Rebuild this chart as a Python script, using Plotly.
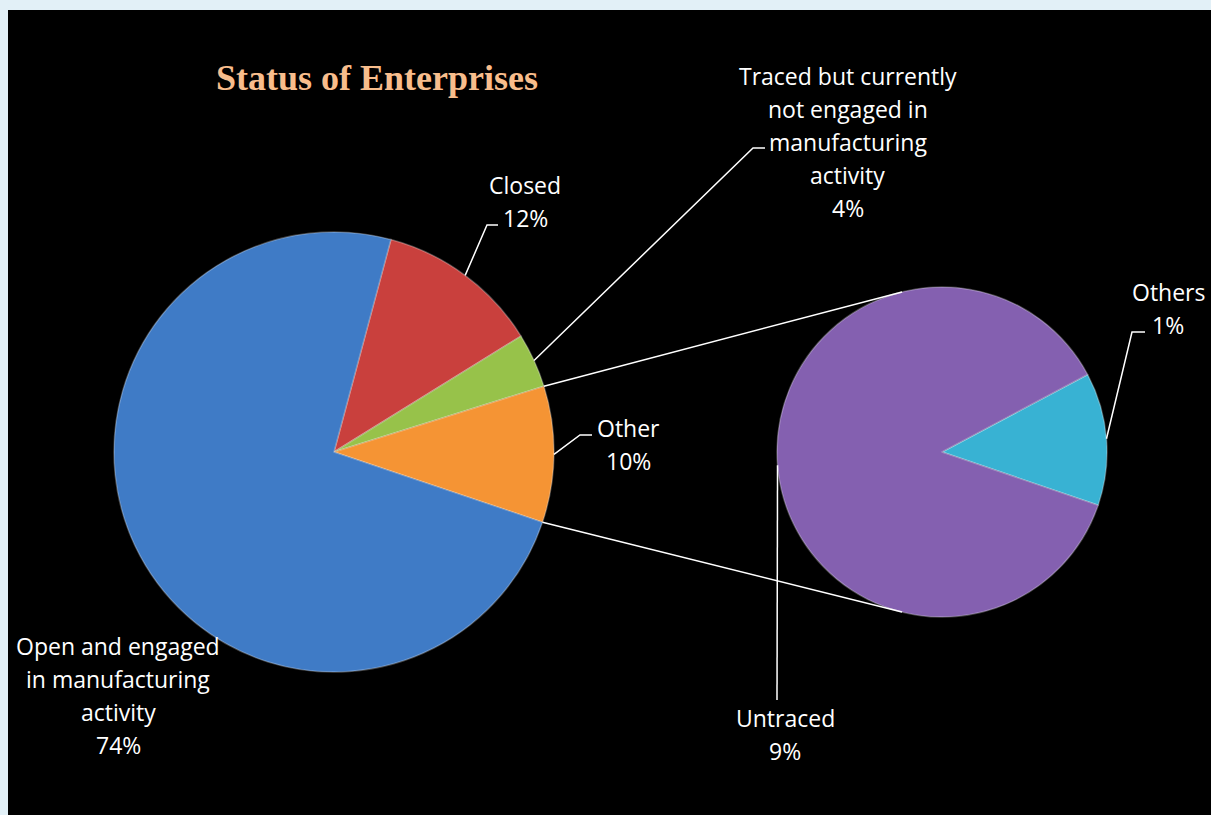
import math
import plotly.graph_objects as go

# ---------------- data ----------------
main_labels = ["Closed",
               "Traced but currently not engaged in manufacturing activity",
               "Other",
               "Open and engaged in manufacturing activity"]
main_values = [12, 4, 10, 74]          # % of all enterprises
sub_labels = ["Others", "Untraced"]
sub_values = [1.3, 8.7]                # split of "Other" (10 %)

main_colors = ["#C9403D", "#97C24A", "#F59434", "#3F7BC6"]
sub_colors = ["#38B2D3", "#8460B0"]

# line breaking of the data labels (text only)
label_lines = {
    "Closed": ["Closed"],
    "Traced but currently not engaged in manufacturing activity":
        ["Traced but currently", "not engaged in", "manufacturing", "activity"],
    "Other": ["Other"],
    "Open and engaged in manufacturing activity":
        ["Open and engaged", "in manufacturing", "activity"],
    "Others": ["Others"],
    "Untraced": ["Untraced"],
}

# ---------------- layout constants (pixels) ----------------
W, H = 1211, 815
main_c, main_r, main_rot = (334, 452), 220, 15
sub_c, sub_r, sub_rot = (942, 452), 165, 62
sub_connect_angles = (346, 194)

label_pos = {
    "Closed": (525, 185),
    "Traced but currently not engaged in manufacturing activity": (848, 76),
    "Other": (628, 428),
    "Open and engaged in manufacturing activity": (118, 646),
    "Others": (1168, 292),
    "Untraced": (785, 718),
}
leader_pts = {
    "Closed": [(487, 225), (498, 225)],
    "Traced but currently not engaged in manufacturing activity": [(753, 148), (765, 148)],
    "Other": [(580, 435), (592, 435)],
    "Others": [(1132, 332), (1145, 332)],
    "Untraced": [(777, 700)],
}
LINE_H = 33


def px(x):
    return x / W


def py(y):
    return 1 - y / H


def pie_point(c, r, ang):
    a = math.radians(ang)
    return (c[0] + r * math.sin(a), c[1] - r * math.cos(a))


def slice_angles(values, rot):
    tot = sum(values)
    out, a = [], rot
    for v in values:
        span = 360 * v / tot
        out.append((a, a + span))
        a += span
    return out


def domain(c, r):
    return dict(x=[px(c[0] - r), px(c[0] + r)], y=[py(c[1] + r), py(c[1] - r)])


edge = dict(color="rgba(255,255,255,0.28)", width=1.5)
fig = go.Figure()
fig.add_trace(go.Pie(labels=main_labels, values=main_values, sort=False,
                     direction="clockwise", rotation=main_rot,
                     marker=dict(colors=main_colors, line=edge),
                     textinfo="none", hoverinfo="label+percent",
                     domain=domain(main_c, main_r), showlegend=False))
fig.add_trace(go.Pie(labels=sub_labels, values=sub_values, sort=False,
                     direction="clockwise", rotation=sub_rot,
                     marker=dict(colors=sub_colors, line=edge),
                     textinfo="none", hoverinfo="label+value",
                     domain=domain(sub_c, sub_r), showlegend=False))

shapes = []
annotations = []

# border strips (light patterned frame)
frame = "#E2F0F7"
shapes.append(dict(type="rect", xref="paper", yref="paper", x0=0, x1=1, y0=py(10), y1=1,
                   fillcolor=frame, line=dict(width=0), layer="above"))
shapes.append(dict(type="rect", xref="paper", yref="paper", x0=0, x1=px(8), y0=0, y1=1,
                   fillcolor=frame, line=dict(width=0), layer="above"))

main_ang = slice_angles(main_values, main_rot)
sub_ang = slice_angles(sub_values, sub_rot)
tot = sum(main_values)


def add_path(pts):
    d = "M " + " L ".join(f"{px(x)},{py(y)}" for x, y in pts)
    shapes.append(dict(type="path", xref="paper", yref="paper", path=d,
                       line=dict(color="white", width=1.5)))


# connector lines between "Other" and the secondary pie
oi = main_labels.index("Other")
a0, a1 = main_ang[oi]
add_path([pie_point(main_c, main_r, a0), pie_point(sub_c, sub_r, sub_connect_angles[0])])
add_path([pie_point(main_c, main_r, a1), pie_point(sub_c, sub_r, sub_connect_angles[1])])

# data labels + leader lines
entries = []
for lab, v, (s, e) in zip(main_labels, main_values, main_ang):
    entries.append((lab, v, (s + e) / 2, main_c, main_r))
for lab, v, (s, e) in zip(sub_labels, sub_values, sub_ang):
    entries.append((lab, v, (s + e) / 2, sub_c, sub_r))

for lab, v, mid, c, r in entries:
    pct = f"{round(100 * v / tot)}%"
    lines = label_lines[lab] + [pct]
    lx, ly = label_pos[lab]
    for i, t in enumerate(lines):
        annotations.append(dict(x=px(lx), y=py(ly + i * LINE_H), xref="paper", yref="paper",
                                text=t, showarrow=False, xanchor="center", yanchor="middle",
                                font=dict(family="Open Sans", size=23, color="white")))
    if lab in leader_pts:
        add_path([pie_point(c, r, mid)] + leader_pts[lab])

# title
annotations.append(dict(x=px(377), y=py(78), xref="paper", yref="paper",
                        text="<b>Status of Enterprises</b>", showarrow=False,
                        xanchor="center", yanchor="middle",
                        font=dict(family="Liberation Serif", size=36, color="#F8BD8C")))

fig.update_layout(width=W, height=H, margin=dict(l=0, r=0, t=0, b=0),
                  paper_bgcolor="black", plot_bgcolor="black",
                  shapes=shapes, annotations=annotations)

fig.write_html("out.html", config={"displayModeBar": False},
               post_script="document.body.style.margin='0';document.body.style.overflow='hidden';")
